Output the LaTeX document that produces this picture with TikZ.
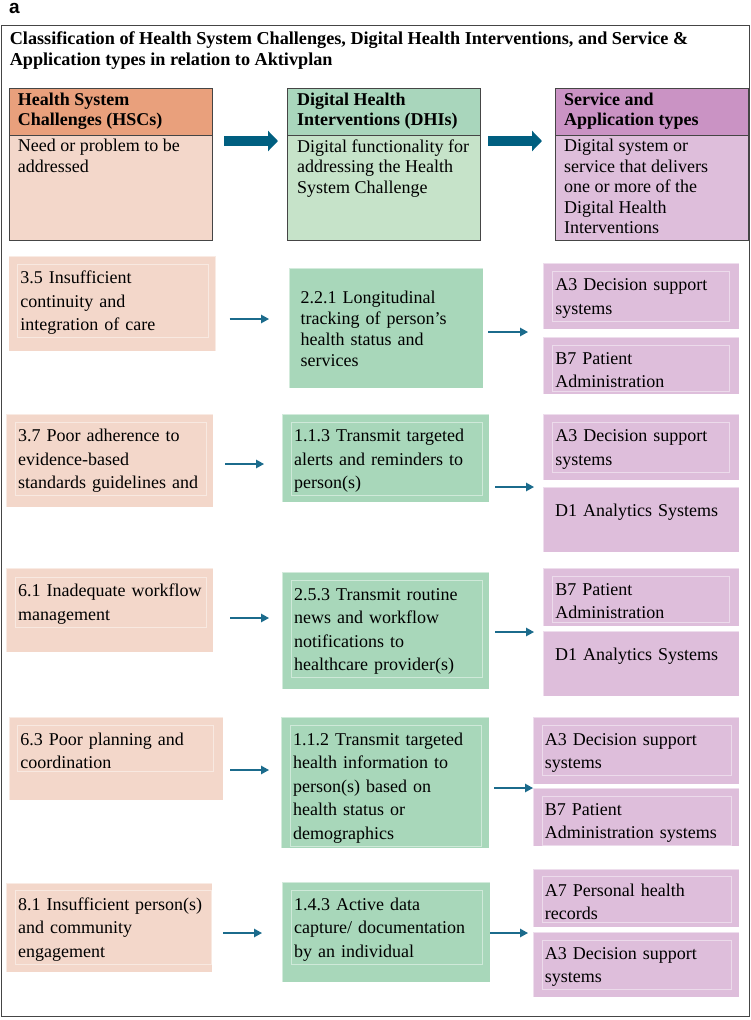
\documentclass[tikz,border=0pt]{standalone}
\usepackage{fontspec}
\setmainfont{Liberation Serif}
\newfontfamily\panelfont{Liberation Sans}
\usetikzlibrary{arrows.meta}
\definecolor{hschead}{HTML}{E9A07C}
\definecolor{hscfill}{HTML}{F3D7CA}
\definecolor{dhihead}{HTML}{A9D6BC}
\definecolor{dhibody}{HTML}{C6E3C9}
\definecolor{dhifill}{HTML}{A8D7BA}
\definecolor{sathead}{HTML}{CA93C4}
\definecolor{satfill}{HTML}{DEBEDB}
\definecolor{frameline}{HTML}{454545}
\definecolor{arrowblue}{HTML}{005F80}
\definecolor{linkblue}{HTML}{1B6B8C}

\begin{document}
\begin{tikzpicture}[x=1pt,y=-1pt]
  \useasboundingbox (0,0) rectangle (750,1020);
  \tikzstyle{box}=[rectangle, anchor=north west, outer sep=0pt, inner sep=0pt]
  \tikzstyle{headbox}=[box, draw=frameline, line width=0.9pt]
  \tikzstyle{rowbox}=[box, draw=white, draw opacity=0.5, line width=1pt]
  \tikzstyle{txt}=[anchor=north west, inner sep=3pt, align=left,
                   font=\fontsize{18}{23.5}\selectfont, execute at begin node=\strut]
  \tikzstyle{boxed}=[txt, draw=white, draw opacity=0.45, line width=0.8pt]
  \tikzstyle{headtxt}=[txt, font=\fontsize{18}{20.5}\selectfont]
  \tikzstyle{link}=[draw=linkblue, line width=1.3pt, -{Triangle[length=8pt,width=8.5pt]}]
  \tikzstyle{bigarrow}=[draw=arrowblue, line width=10pt, -{Triangle[length=10pt,width=20pt]}]

  % panel letter, frame and title
  \node[anchor=base west, inner sep=0pt, font=\panelfont\bfseries\fontsize{19}{19}\selectfont] (panel) at (9,13.5) {a};
  \draw[draw=frameline, line width=1pt] (1,25) rectangle (749,1016);
  \node[anchor=north west, inner sep=0pt, align=left,
        font=\fontsize{18.2}{21.5}\selectfont\bfseries] (title) at (9.6,31.2)
    {Classification of Health System Challenges, Digital Health Interventions, and Service \&\\
     Application types in relation to Aktivplan};

  % column headers
  \node[headbox, fill=hschead, minimum width=203pt, minimum height=47pt] (hschead) at (9,88) {};
  \node[headbox, fill=hscfill, minimum width=203pt, minimum height=105pt] (hscbody) at (9,135) {};
  \node[headbox, fill=dhihead, minimum width=193pt, minimum height=47pt] (dhihead) at (287,88) {};
  \node[headbox, fill=dhibody, minimum width=193pt, minimum height=105pt] (dhibody) at (287,135) {};
  \node[headbox, fill=sathead, minimum width=193pt, minimum height=47pt] (sathead) at (555,88) {};
  \node[headbox, fill=satfill, minimum width=193pt, minimum height=105pt] (satbody) at (555,135) {};

  \node[headtxt, font=\fontsize{18}{20.5}\selectfont\bfseries] (hscname) at (14.7,89.5) {Health System\\Challenges (HSCs)};
  \node[headtxt] (hscdef) at (14.7,136.3) {Need or problem to be\\addressed};
  \node[headtxt, font=\fontsize{18}{20.5}\selectfont\bfseries] (dhiname) at (294,89.5) {Digital Health\\Interventions (DHIs)};
  \node[headtxt] (dhidef) at (294,136.3) {Digital functionality for\\addressing the Health\\System Challenge};
  \node[headtxt, font=\fontsize{18}{20.5}\selectfont\bfseries] (satname) at (561,89.5) {Service and\\Application types};
  \node[headtxt] (satdef) at (561,136.3) {Digital system or\\service that delivers\\one or more of the\\Digital Health\\Interventions};

  \coordinate (ya) at (0,141);
  \draw[bigarrow, shorten <=12pt, shorten >=9pt] (hscbody.east |- ya) -- (dhibody.west |- ya);
  \draw[bigarrow, shorten <=8pt, shorten >=13pt] (dhibody.east |- ya) -- (satbody.west |- ya);

  % row 1
  \node[rowbox, fill=hscfill, minimum width=207pt, minimum height=95pt] (hsc1) at (8.6,256) {};
  \node[rowbox, fill=dhifill, minimum width=194pt, minimum height=120pt] (dhi1) at (289,268) {};
  \node[rowbox, fill=satfill, minimum width=196pt, minimum height=66pt] (sat1a) at (543,263) {};
  \node[rowbox, fill=satfill, minimum width=196pt, minimum height=57pt] (sat1b) at (543,337) {};
  \node[boxed, text width=185pt] (t1) at (17,263.9) {3.5 Insufficient\\continuity and\\integration of care};
  \node[txt, text width=180pt, font=\fontsize{18}{21}\selectfont] (d1) at (297.5,285.3) {2.2.1 Longitudinal\\tracking of person’s\\health status and\\services};
  \node[boxed, text width=171pt] (s1a) at (552,271.1) {A3 Decision support\\systems};
  \node[boxed, text width=171pt] (s1b) at (552,344.5) {B7 Patient\\Administration};

  % row 2
  \node[rowbox, fill=hscfill, minimum width=207pt, minimum height=93pt] (hsc2) at (6,414) {};
  \node[rowbox, fill=dhifill, minimum width=207pt, minimum height=88pt] (dhi2) at (282,414) {};
  \node[rowbox, fill=satfill, minimum width=196pt, minimum height=66pt] (sat2a) at (543,414) {};
  \node[rowbox, fill=satfill, minimum width=196pt, minimum height=65pt] (sat2b) at (543,487) {};
  \node[boxed, text width=185pt] (t2) at (14.7,421.9) {3.7 Poor adherence to\\evidence-based\\standards guidelines and};
  \node[boxed, text width=185pt] (d2) at (290.8,421.9) {1.1.3 Transmit targeted\\alerts and reminders to\\person(s)};
  \node[boxed, text width=171pt] (s2a) at (552,421.9) {A3 Decision support\\systems};
  \node[txt, text width=171pt] (s2b) at (552,497.2) {D1 Analytics Systems};

  % row 3
  \node[rowbox, fill=hscfill, minimum width=207pt, minimum height=84pt] (hsc3) at (6,568) {};
  \node[rowbox, fill=dhifill, minimum width=207pt, minimum height=117pt] (dhi3) at (282,572) {};
  \node[rowbox, fill=satfill, minimum width=196pt, minimum height=58pt] (sat3a) at (543,568) {};
  \node[rowbox, fill=satfill, minimum width=196pt, minimum height=65pt] (sat3b) at (543,631) {};
  \node[boxed, text width=185pt] (t3) at (14.7,576.9) {6.1 Inadequate workflow\\management};
  \node[boxed, text width=185pt] (d3) at (290.8,580.2) {2.5.3 Transmit routine\\news and workflow\\notifications to\\healthcare provider(s)};
  \node[boxed, text width=171pt] (s3a) at (552,575.5) {B7 Patient\\Administration};
  \node[txt, text width=171pt] (s3b) at (552,640.6) {D1 Analytics Systems};

  % row 4
  \node[rowbox, fill=hscfill, minimum width=214pt, minimum height=83pt] (hsc4) at (9,717) {};
  \node[rowbox, fill=dhifill, minimum width=208pt, minimum height=131pt] (dhi4) at (281,717) {};
  \node[rowbox, fill=satfill, minimum width=206pt, minimum height=67pt] (sat4a) at (533,717) {};
  \node[rowbox, fill=satfill, minimum width=206pt, minimum height=58pt] (sat4b) at (533,788) {};
  \node[boxed, text width=190pt] (t4) at (17,725.2) {6.3 Poor planning and\\coordination};
  \node[boxed, text width=185.5pt] (d4) at (289.8,725.2) {1.1.2 Transmit targeted\\health information to\\person(s) based on\\health status or\\demographics};
  \node[boxed, text width=183pt] (s4a) at (541.5,725.2) {A3 Decision support\\systems};
  \node[boxed, text width=183pt] (s4b) at (541.5,795.5) {B7 Patient\\Administration systems};

  % row 5
  \node[rowbox, fill=hscfill, minimum width=206pt, minimum height=89pt] (hsc5) at (6,883) {};
  \node[rowbox, fill=dhifill, minimum width=208pt, minimum height=100pt] (dhi5) at (282,882) {};
  \node[rowbox, fill=satfill, minimum width=206pt, minimum height=58pt] (sat5a) at (533,869) {};
  \node[rowbox, fill=satfill, minimum width=206pt, minimum height=65pt] (sat5b) at (533,932) {};
  \node[boxed, text width=190pt] (t5) at (14.7,890.2) {\mbox{8.1 Insufficient person(s)}\\and community\\engagement};
  \node[boxed, text width=185pt] (d5) at (290.8,890.2) {1.4.3 Active data\\capture/ documentation\\by an individual};
  \node[boxed, text width=183pt] (s5a) at (541.5,876.2) {A7 Personal health\\records};
  \node[boxed, text width=183pt] (s5b) at (541.5,939.5) {A3 Decision support\\systems};

  % links
  \coordinate (y1a) at (0,319);  \coordinate (y1b) at (0,332);
  \coordinate (y2a) at (0,464);  \coordinate (y2b) at (0,487);
  \coordinate (y3a) at (0,618);  \coordinate (y3b) at (0,632);
  \coordinate (y4a) at (0,770);  \coordinate (y4b) at (0,788);
  \coordinate (y5a) at (0,933);  \coordinate (y5b) at (0,933);
  \draw[link, shorten <=14pt, shorten >=20pt] (hsc1.east |- y1a) -- (dhi1.west |- y1a);
  \draw[link, shorten <=5pt, shorten >=15pt] (dhi1.east |- y1b) -- (sat1a.west |- y1b);
  \draw[link, shorten <=12pt, shorten >=18pt] (hsc2.east |- y2a) -- (dhi2.west |- y2a);
  \draw[link, shorten <=6pt, shorten >=9pt] (dhi2.east |- y2b) -- (sat2a.west |- y2b);
  \draw[link, shorten <=17pt, shorten >=13pt] (hsc3.east |- y3a) -- (dhi3.west |- y3a);
  \draw[link, shorten <=6pt, shorten >=9pt] (dhi3.east |- y3b) -- (sat3a.west |- y3b);
  \draw[link, shorten <=7pt, shorten >=12pt] (hsc4.east |- y4a) -- (dhi4.west |- y4a);
  \draw[link, shorten <=5pt, shorten >=0pt] (dhi4.east |- y4b) -- (sat4a.west |- y4b);
  \draw[link, shorten <=11pt, shorten >=20pt] (hsc5.east |- y5a) -- (dhi5.west |- y5a);
  \draw[link, shorten <=0pt, shorten >=5pt] (dhi5.east |- y5b) -- (sat5a.west |- y5b);
\end{tikzpicture}
\end{document}
